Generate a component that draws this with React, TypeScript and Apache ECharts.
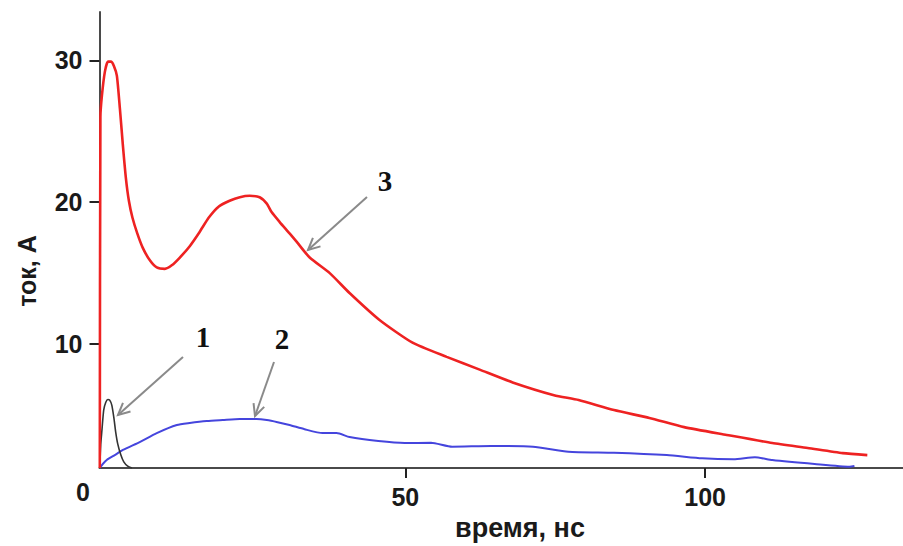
import React, { useEffect, useRef } from 'react';
import * as echarts from 'echarts';

// time (ns), current (A)
const curve1: [number, number][] = [
  [-0.95, 1.27], [-0.8, 2.9], [-0.6, 3.9], [-0.3, 5.35], [0.05, 5.9], [0.4, 6.1],
  [0.7, 6.05], [1.05, 5.7], [1.4, 4.8], [1.7, 3.8], [2.05, 2.95], [2.55, 2.2],
  [3.05, 1.7], [3.7, 1.4], [4.4, 1.27],
];

const curve2: [number, number][] = [
  [-0.95, 1.27], [-0.45, 1.55], [0.2, 1.83], [1.55, 2.18], [2.9, 2.54], [5.7, 3.1],
  [8.55, 3.73], [11.9, 4.3], [14.05, 4.44], [16.9, 4.58], [19.55, 4.65], [22.4, 4.72],
  [25.2, 4.72], [26.9, 4.65], [28.7, 4.5], [30.7, 4.3], [33.2, 4.0], [36.2, 3.73],
  [38.55, 3.73], [40.7, 3.45], [45.5, 3.17], [49.9, 3.03], [54.3, 3.05], [57.8, 2.77],
  [64.3, 2.82], [71.3, 2.77], [77.2, 2.42], [84.8, 2.35], [93.6, 2.18], [99.5, 1.95],
  [104.75, 1.88], [108.3, 2.02], [111.2, 1.83], [118.25, 1.55], [124.1, 1.36], [124.9, 1.41],
];

const curve3: [number, number][] = [
  [-0.95, 1.27], [-0.85, 26.0], [-0.6, 27.5], [-0.1, 29.2], [0.4, 29.9], [0.9, 29.9],
  [1.4, 29.6], [1.9, 28.9], [2.4, 26.6], [2.9, 24.0], [3.4, 21.7], [3.9, 20.1],
  [4.5, 18.9], [5.3, 17.8], [6.2, 16.8], [7.4, 15.9], [8.55, 15.4],
  [9.9, 15.3], [11.05, 15.55], [12.4, 16.1], [14.05, 16.9], [15.7, 17.9], [17.2, 18.9],
  [18.9, 19.7], [20.7, 20.1], [22.4, 20.35], [24.05, 20.45], [25.7, 20.35], [26.9, 19.9],
  [27.7, 19.3], [29.05, 18.6], [30.7, 17.8], [31.9, 17.2], [34.05, 16.1], [37.4, 15.0],
  [40.7, 13.6], [45.7, 11.7], [51.2, 10.1], [56.9, 9.1], [62.4, 8.2], [67.9, 7.3],
  [74.8, 6.4], [78.9, 6.06], [84.8, 5.35], [90.7, 4.8], [96.5, 4.15], [103.6, 3.6],
  [111.2, 3.03], [117.1, 2.68], [122.95, 2.32], [127.05, 2.18],
];

const xTicks = [50, 100];
const yTicks = [10, 20, 30];
const seriesLabels = ['1', '2', '3'];
const xTitle = 'время, нс';
const yTitle = 'ток, А';

// annotation arrows: [tailX, tailY, tipX, tipY] in pixels, and label positions
const arrows: [number, number, number, number][] = [
  [183, 357, 118, 415],
  [274, 362, 255, 416],
  [367, 197, 308, 250],
];
const labelPos: [number, number][] = [
  [203, 337],
  [282, 339],
  [385, 181],
];

const sansFont = '"Liberation Sans", Arial, sans-serif';
const serifFont = '"Liberation Serif", "Times New Roman", serif';

function arrowElements() {
  const els: any[] = [];
  arrows.forEach(([x1, y1, x2, y2]) => {
    const ang = Math.atan2(y2 - y1, x2 - x1);
    const L = 13;
    const a = 0.45;
    const p1 = [x2 - L * Math.cos(ang - a), y2 - L * Math.sin(ang - a)];
    const p2 = [x2 - L * Math.cos(ang + a), y2 - L * Math.sin(ang + a)];
    els.push({
      type: 'line',
      shape: { x1, y1, x2, y2 },
      style: { stroke: '#8a8a8a', lineWidth: 2 },
    });
    els.push({
      type: 'polyline',
      shape: { points: [p1, [x2, y2], p2] },
      style: { stroke: '#8a8a8a', lineWidth: 2, fill: 'none' },
    });
  });
  return els;
}

export default function App() {
  const ref = useRef<HTMLDivElement>(null);
  useEffect(() => {
    const chart = echarts.init(ref.current!, null, { renderer: 'svg' });
    const axisColor = '#4a4a4a';
    chart.setOption({
      animation: false,
      backgroundColor: '#ffffff',
      grid: { left: 99.5, right: 0, top: 12, bottom: 78, containLabel: false },
      xAxis: {
        type: 'value',
        min: -1,
        max: 133,
        splitLine: { show: false },
        axisLine: { show: true, onZero: false, lineStyle: { color: axisColor, width: 2 } },
        axisTick: { show: true, customValues: xTicks, length: 10, lineStyle: { color: '#222', width: 2 } },
        axisLabel: {
          customValues: xTicks,
          margin: 16,
          color: '#1a1a1a',
          fontSize: 25,
          fontWeight: 'bold',
          fontFamily: sansFont,
        },
      },
      yAxis: {
        type: 'value',
        min: 1.27,
        max: 33.4,
        splitLine: { show: false },
        axisLine: { show: true, onZero: false, lineStyle: { color: axisColor, width: 2 } },
        axisTick: { show: true, customValues: yTicks, length: 10, lineStyle: { color: '#222', width: 2 } },
        axisLabel: {
          customValues: yTicks,
          margin: 17,
          color: '#1a1a1a',
          fontSize: 25,
          fontWeight: 'bold',
          fontFamily: sansFont,
        },
      },
      series: [
        {
          type: 'line', data: curve1, showSymbol: false, smooth: 0.2,
          lineStyle: { color: '#333333', width: 1.6 }, z: 3,
        },
        {
          type: 'line', data: curve2, showSymbol: false, smooth: 0.2,
          lineStyle: { color: '#4545dd', width: 2 }, z: 2,
        },
        {
          type: 'line', data: curve3, showSymbol: false, smooth: 0.2,
          lineStyle: { color: '#ee2222', width: 2.6 }, z: 4,
        },
      ],
      graphic: [
        ...arrowElements(),
        ...seriesLabels.map((t, i) => ({
          type: 'text',
          x: labelPos[i][0],
          y: labelPos[i][1],
          style: {
            text: t, fill: '#111', font: `bold 29px ${serifFont}`,
            align: 'center', verticalAlign: 'middle',
          },
        })),
        {
          type: 'text', x: 83, y: 492,
          style: { text: '0', fill: '#1a1a1a', font: `bold 25px ${sansFont}`, align: 'center', verticalAlign: 'middle' },
        },
        {
          type: 'text', x: 520, y: 528,
          style: { text: xTitle, fill: '#1a1a1a', font: `bold 27px ${sansFont}`, align: 'center', verticalAlign: 'middle' },
        },
        {
          type: 'text', x: 27, y: 271, rotation: Math.PI / 2,
          style: { text: yTitle, fill: '#1a1a1a', font: `bold 25px ${sansFont}`, align: 'center', verticalAlign: 'middle' },
        },
      ],
    });
    return () => chart.dispose();
  }, []);
  return (
    <div
      ref={ref}
      style={{ position: 'fixed', left: 0, top: 0, width: 903, height: 546, background: '#fff' }}
    />
  );
}
